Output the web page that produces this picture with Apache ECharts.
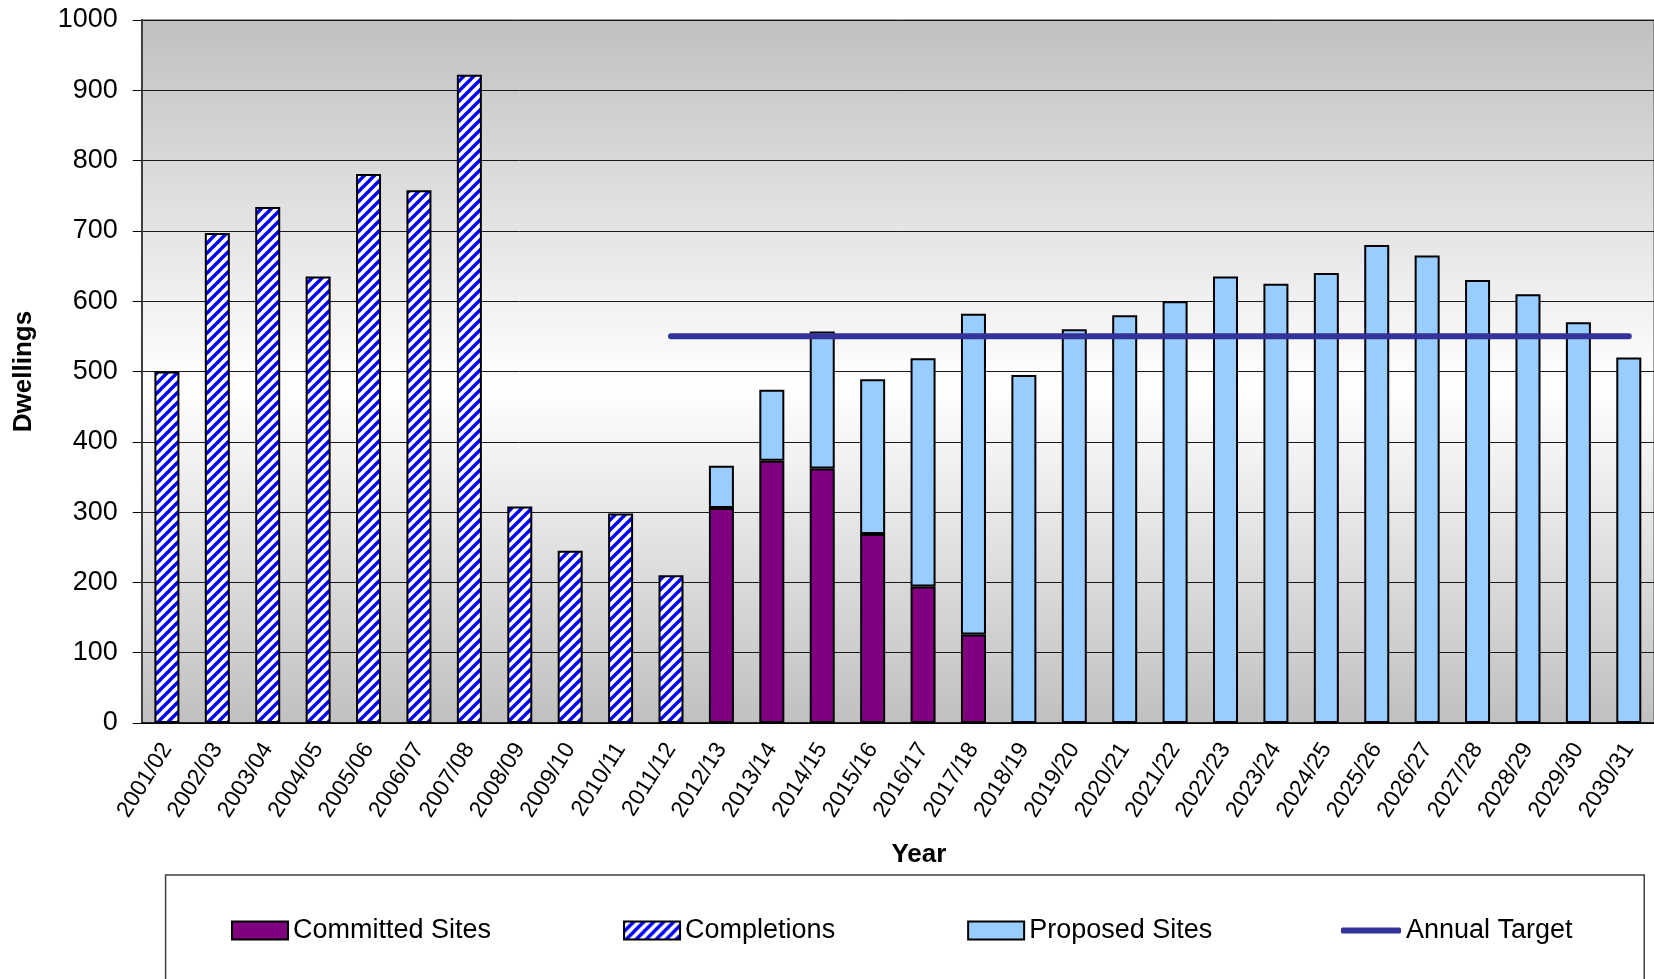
<!DOCTYPE html>
<html>
<head>
<meta charset="utf-8">
<script src="https://cdn.jsdelivr.net/npm/echarts@6/dist/echarts.min.js"></script>
<style>
html,body{margin:0;padding:0;background:#fff;}
#chart{width:1654px;height:979px;}
</style>
</head>
<body>
<div id="chart"></div>
<script>
const categories = ['2001/02','2002/03','2003/04','2004/05','2005/06','2006/07','2007/08','2008/09','2009/10','2010/11',
  '2011/12','2012/13','2013/14','2014/15','2015/16','2016/17','2017/18','2018/19','2019/20','2020/21',
  '2021/22','2022/23','2023/24','2024/25','2025/26','2026/27','2027/28','2028/29','2029/30','2030/31'];
const completions = [500,697,734,635,781,758,922,308,245,298,210,null,null,null,null,null,null,null,null,null,null,null,null,null,null,null,null,null,null,null];
const committedSites = [null,null,null,null,null,null,null,null,null,null,null,306,373,362,269,194,126,null,null,null,null,null,null,null,null,null,null,null,null,null];
const proposedSites = [null,null,null,null,null,null,null,null,null,null,null,60,101,195,220,325,456,495,560,580,600,635,625,640,680,665,630,610,570,520];
const annualTarget = [null,null,null,null,null,null,null,null,null,null,550,550,550,550,550,550,550,550,550,550,550,550,550,550,550,550,550,550,550,550];
const yTicks = {min:0, max:1000, interval:100};

// hatch pattern for completions
const pc = document.createElement('canvas');
pc.width = 10; pc.height = 10;
const ctx = pc.getContext('2d');
ctx.fillStyle = '#ffffff'; ctx.fillRect(0,0,10,10);
ctx.strokeStyle = '#0000ff'; ctx.lineWidth = 3.4;
[[0,10,10,0],[-5,5,5,-5],[5,15,15,5]].forEach(l=>{ctx.beginPath();ctx.moveTo(l[0],l[1]);ctx.lineTo(l[2],l[3]);ctx.stroke();});

const FONT = '"Liberation Sans", Arial, sans-serif';
const chart = echarts.init(document.getElementById('chart'), null, {renderer:'canvas'});
const option = {
  animation: false,
  textStyle: {fontFamily: FONT},
  grid: {
    left: 141.7, top: 20, width: 1515, height: 703,
    show: true,
    borderColor: '#808080', borderWidth: 1.5,
    backgroundColor: {type:'linear', x:0, y:0, x2:0, y2:1, colorStops:[
      {offset:0, color:'#c0c0c0'}, {offset:0.52, color:'#ffffff'}, {offset:1, color:'#c0c0c0'}]}
  },
  legend: [{
    left: 165.6, top: 875,
    padding: [42, 432, 80, 65.4],
    backgroundColor: '#ffffff', borderColor: '#404040', borderWidth: 1.5,
    itemWidth: 56, itemHeight: 18, itemGap: 132,
    icon: 'rect',
    textStyle: {fontSize: 27, color: '#000', fontFamily: FONT},
    data: ['Committed Sites','Completions','Proposed Sites']
  }, {
    left: 1341, top: 917,
    padding: 0,
    itemWidth: 60, itemHeight: 6,
    icon: 'roundRect',
    textStyle: {fontSize: 27, color: '#000', fontFamily: FONT},
    data: ['Annual Target']
  }],
  xAxis: {
    type: 'category', data: categories,
    name: 'Year', nameLocation: 'middle', nameGap: 119,
    nameTextStyle: {fontSize: 26, fontWeight: 'bold', color: '#000', padding: [0,0,0,42]},
    axisLine: {lineStyle: {color: '#000', width: 1.5}},
    axisTick: {length: 6, lineStyle: {color: '#000'}},
    axisLabel: {rotate: 58, fontSize: 23, color: '#000', margin: 22, interval: 0}
  },
  yAxis: {
    type: 'value', min: yTicks.min, max: yTicks.max, interval: yTicks.interval,
    name: 'Dwellings', nameLocation: 'middle', nameGap: 105,
    nameTextStyle: {fontSize: 26, fontWeight: 'bold', color: '#000'},
    axisLine: {show: true, lineStyle: {color: '#404040', width: 2}},
    axisTick: {show: true, length: 9, lineStyle: {color: '#000'}},
    axisLabel: {fontSize: 27, color: '#000', margin: 24, formatter: v => String(v)},
    splitLine: {lineStyle: {color: '#1a1a1a', width: 1}}
  },
  series: [
    {name:'Committed Sites', type:'bar', stack:'a', data: committedSites, barWidth: 25,
     itemStyle:{color:'#800080', borderColor:'#000', borderWidth:2}},
    {name:'Completions', type:'bar', stack:'a', data: completions, barWidth: 25,
     itemStyle:{color:{image: pc, repeat:'repeat'}, borderColor:'#000', borderWidth:2}},
    {name:'Proposed Sites', type:'bar', stack:'a', data: proposedSites, barWidth: 25,
     itemStyle:{color:'#99ccff', borderColor:'#000', borderWidth:2}},
    {name:'Annual Target', type:'line', data: annualTarget, showSymbol:false, symbol:'none',
     lineStyle:{color:'#333399', width:6, cap:'round'}, itemStyle:{color:'#333399'}, z: 5}
  ]
};
chart.setOption(option);
</script>
</body>
</html>
